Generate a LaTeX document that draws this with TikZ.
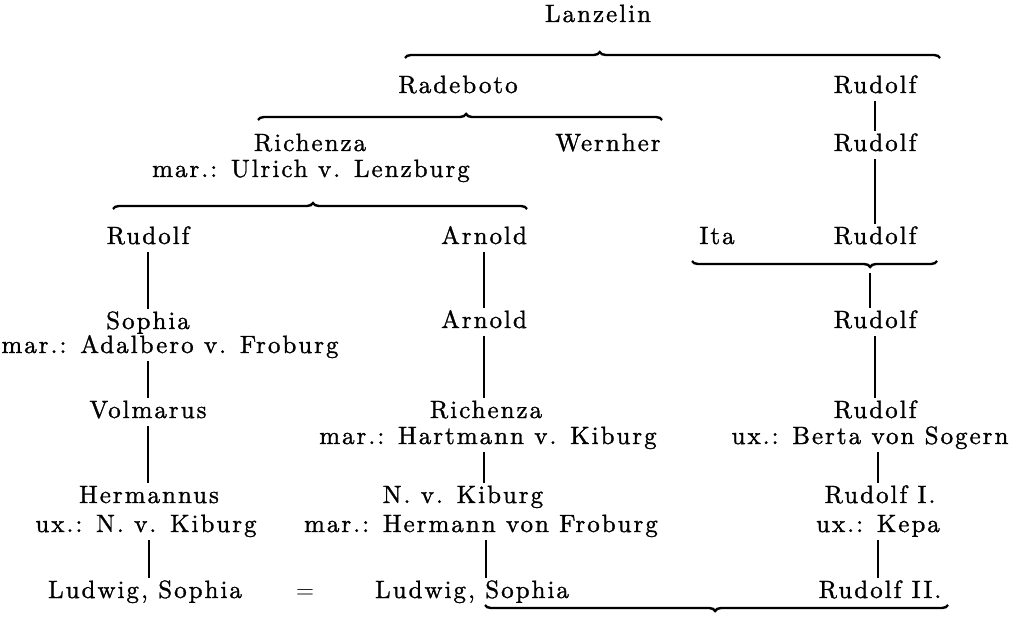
\documentclass[tikz,border=0pt]{standalone}
\usepackage{fontspec}
\setmainfont{lmroman10-regular}[Extension = .otf, LetterSpace = 8, FakeBold = 1.2]
\usetikzlibrary{decorations.pathreplacing}

\begin{document}
\begin{tikzpicture}[x = 1pt, y = -1pt,
	person/.style = {anchor = base, inner sep = 3pt, text height = 17pt, text depth = 5pt, font = \fontsize{25}{30}\selectfont},
	stem/.style = {line width = 1.3pt},
	famup/.style = {decorate, decoration = {brace, amplitude = 6pt, aspect = #1}, line width = 2.4pt},
	famdown/.style = {decorate, decoration = {brace, mirror, amplitude = 6pt, aspect = #1}, line width = 2.4pt}]
	
	\useasboundingbox (0, 0) rectangle (1011, 617);
	
	% First generations
	
	\node [person] (lanzelin) at (598, 22) {Lanzelin};
	\node [person] (radeboto) at (458, 93) {Radeboto};
	\node [person] (rudolfA) at (875, 93) {Rudolf};
	
	\node [person] (richenza) at (310, 151) {Richenza};
	\node [person] (richenzamar) at (311, 177) {mar.: Ulrich v. Lenzburg};
	\node [person] (wernher) at (608, 151) {Wernher};
	\node [person] (rudolfB) at (875, 151) {Rudolf};
	
	\node [person] (rudolfL) at (148, 244) {Rudolf};
	\node [person] (arnold) at (484, 244) {Arnold};
	\node [person] (ita) at (717, 244) {Ita};
	\node [person] (rudolfC) at (875, 244) {Rudolf};
	
	% Left line
	
	\node [person] (sophia) at (148, 329) {Sophia};
	\node [person] (sophiamar) at (170, 353) {mar.: Adalbero v. Froburg};
	\node [person] (volmarus) at (148, 418) {Volmarus};
	\node [person] (hermannus) at (149, 503) {Hermannus};
	\node [person] (hermannusux) at (146, 532) {ux.: N. v. Kiburg};
	\node [person] (ludwigL) at (145, 598) {Ludwig, Sophia};
	\node [person] (equal) at (305, 598) {$=$};
	
	% Middle line
	
	\node [person] (arnoldB) at (484, 328) {Arnold};
	\node [person] (richenzaB) at (486, 418) {Richenza};
	\node [person] (richenzaBmar) at (488, 444) {mar.: Hartmann v. Kiburg};
	\node [person] (nkiburg) at (463, 503) {N. v. Kiburg};
	\node [person] (nkiburgmar) at (481, 532) {mar.: Hermann von Froburg};
	\node [person] (ludwigM) at (472, 598) {Ludwig, Sophia};
	
	% Right line
	
	\node [person] (rudolfD) at (875, 328) {Rudolf};
	\node [person] (rudolfE) at (875, 418) {Rudolf};
	\node [person] (rudolfEux) at (870, 444) {ux.: Berta von Sogern};
	\node [person] (rudolfI) at (880, 503) {Rudolf I.};
	\node [person] (rudolfIux) at (878, 532) {ux.: Kepa};
	\node [person] (rudolfII) at (880, 598) {Rudolf II.};
	
	% Braces
	
	\coordinate (b1l) at (405, 58);
	\coordinate (b1r) at (940, 58);
	\coordinate (b2l) at (258, 120);
	\coordinate (b2r) at (662, 120);
	\coordinate (b3l) at (113, 209);
	\coordinate (b3r) at (527, 209);
	\coordinate (b4l) at (692, 261);
	\coordinate (b4r) at (937, 261);
	\coordinate (b4t) at (870, 273);
	\coordinate (b5l) at (485, 605);
	\coordinate (b5r) at (948, 605);
	
	\draw [famup = 0.364] (b1l) -- (b1r);
	\draw [famup = 0.515] (b2l) -- (b2r);
	\draw [famup = 0.483] (b3l) -- (b3r);
	\draw [famdown = 0.727] (b4l) -- (b4r);
	\draw [famdown = 0.497] (b5l) -- (b5r);
	
	% Descent lines
	
	\draw [stem] (rudolfA) -- (rudolfB);
	\draw [stem] (rudolfB) -- (rudolfC);
	\draw [stem] (b4t) -- (b4t |- rudolfD.north);
	\draw [stem] (rudolfD) -- (rudolfE);
	\draw [stem] (rudolfEux.south -| rudolfIux) -- (rudolfIux |- rudolfI.north);
	\draw [stem] (rudolfIux) -- (rudolfIux |- rudolfII.north);
	
	\draw [stem] (rudolfL) -- (sophia);
	\draw [stem] (sophiamar.south -| volmarus) -- (volmarus);
	\draw [stem] (volmarus) -- (volmarus |- hermannus.north);
	\draw [stem] (hermannusux.south -| hermannus) -- (hermannus |- ludwigL.north);
	
	\draw [stem] (arnold) -- (arnoldB);
	\draw [stem] (arnoldB) -- (arnoldB |- richenzaB.north);
	\draw [stem] (richenzaBmar.south -| arnold) -- (arnold |- nkiburg.north);
	\draw [stem] ([xshift = 5pt] nkiburgmar.south) -- ([xshift = 5pt] nkiburgmar.south |- ludwigM.north);
	
\end{tikzpicture}
\end{document}
